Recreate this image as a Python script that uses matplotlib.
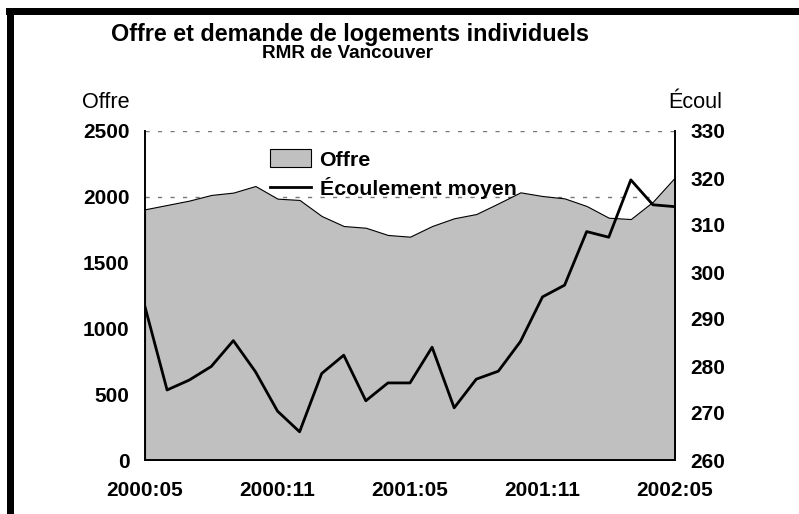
import matplotlib

matplotlib.use("Agg")
import matplotlib.pyplot as plt  # noqa: E402
from matplotlib.patches import Rectangle, Patch  # noqa: E402
from matplotlib.lines import Line2D  # noqa: E402

plt.rcParams["font.family"] = ["Liberation Sans", "DejaVu Sans"]

# Monthly data, 2000:05 .. 2002:05
months = list(range(25))
tick_pos = [0, 6, 12, 18, 24]
tick_labels = ["2000:05", "2000:11", "2001:05", "2001:11", "2002:05"]

offre = [1905, 1938, 1971, 2014, 2032, 2082, 1986, 1976, 1854, 1778,
         1765, 1710, 1697, 1778, 1837, 1869, 1950, 2034, 2006, 1988,
         1930, 1841, 1831, 1963, 2148]
ecoulement = [292.6, 274.9, 277.0, 279.9, 285.4, 278.8, 270.4, 266.0, 278.4,
              282.3, 272.6, 276.4, 276.4, 284.0, 271.1, 277.2, 278.9, 285.2,
              294.7, 297.2, 308.6, 307.4, 319.6, 314.3, 313.9]

W, H = 799, 514
fig = plt.figure(figsize=(W / 100, H / 100), dpi=100)
ax = fig.add_axes([145 / W, 1 - 460 / H, 530 / W, 329 / H])
ax2 = ax.twinx()

# supply as grey area on left axis
ax.fill_between(months, offre, 0, facecolor="#c0c0c0", edgecolor="black",
                linewidth=0.8, zorder=2)
ax.set_xlim(0, 24)
ax.set_ylim(0, 2500)
ax.set_yticks(range(0, 2501, 500))
ax.set_axisbelow(True)
ax.yaxis.grid(True, color="#777777", linestyle=(0, (3, 6)), linewidth=1)

# absorption line on right axis
ax2.plot(months, ecoulement, color="black", linewidth=2)
ax2.set_ylim(260, 330)
ax2.set_yticks(range(260, 331, 10))

ax.set_xticks(tick_pos)
ax.set_xticklabels(tick_labels)
for a in (ax, ax2):
    a.tick_params(length=0, labelsize=15)
    a.spines["top"].set_visible(False)
    for s in a.spines.values():
        s.set_linewidth(1.2)
    for lab in a.get_xticklabels() + a.get_yticklabels():
        lab.set_fontweight("bold")
ax.tick_params(axis="y", pad=11)
ax.tick_params(axis="x", pad=15)
ax2.tick_params(axis="y", pad=11)

handles = [Patch(facecolor="#c0c0c0", edgecolor="black", linewidth=0.8),
           Line2D([], [], color="black", linewidth=2)]
fig.legend(handles, ["Offre", "Écoulement moyen"], loc="upper left",
           bbox_to_anchor=(270 / W, 1 - 149 / H), bbox_transform=fig.transFigure,
           frameon=False, borderpad=0, borderaxespad=0, handlelength=1.9,
           handleheight=0.95, handletextpad=0.42, labelspacing=0.35,
           prop={"size": 15.4, "weight": "bold"})

fig.text(350 / W, 1 - 34 / H, "Offre et demande de logements individuels",
         ha="center", va="center", fontsize=16.8, fontweight="bold")
fig.text(347 / W, 1 - 54 / H, "RMR de Vancouver",
         ha="center", va="center", fontsize=13.6, fontweight="bold")
fig.text(130 / W, 1 - 103 / H, "Offre", ha="right", va="center", fontsize=15.6)
fig.text(722 / W, 1 - 103 / H, "Écoul", ha="right", va="center", fontsize=15.6)

# thick black frame on top and left
fig.add_artist(Rectangle((6 / W, 1 - 15 / H), 793 / W, 7 / H,
                         transform=fig.transFigure, color="black", lw=0))
fig.add_artist(Rectangle((7 / W, 0), 7 / W, 1 - 8 / H,
                         transform=fig.transFigure, color="black", lw=0))

fig.savefig("out.png", dpi=100)
